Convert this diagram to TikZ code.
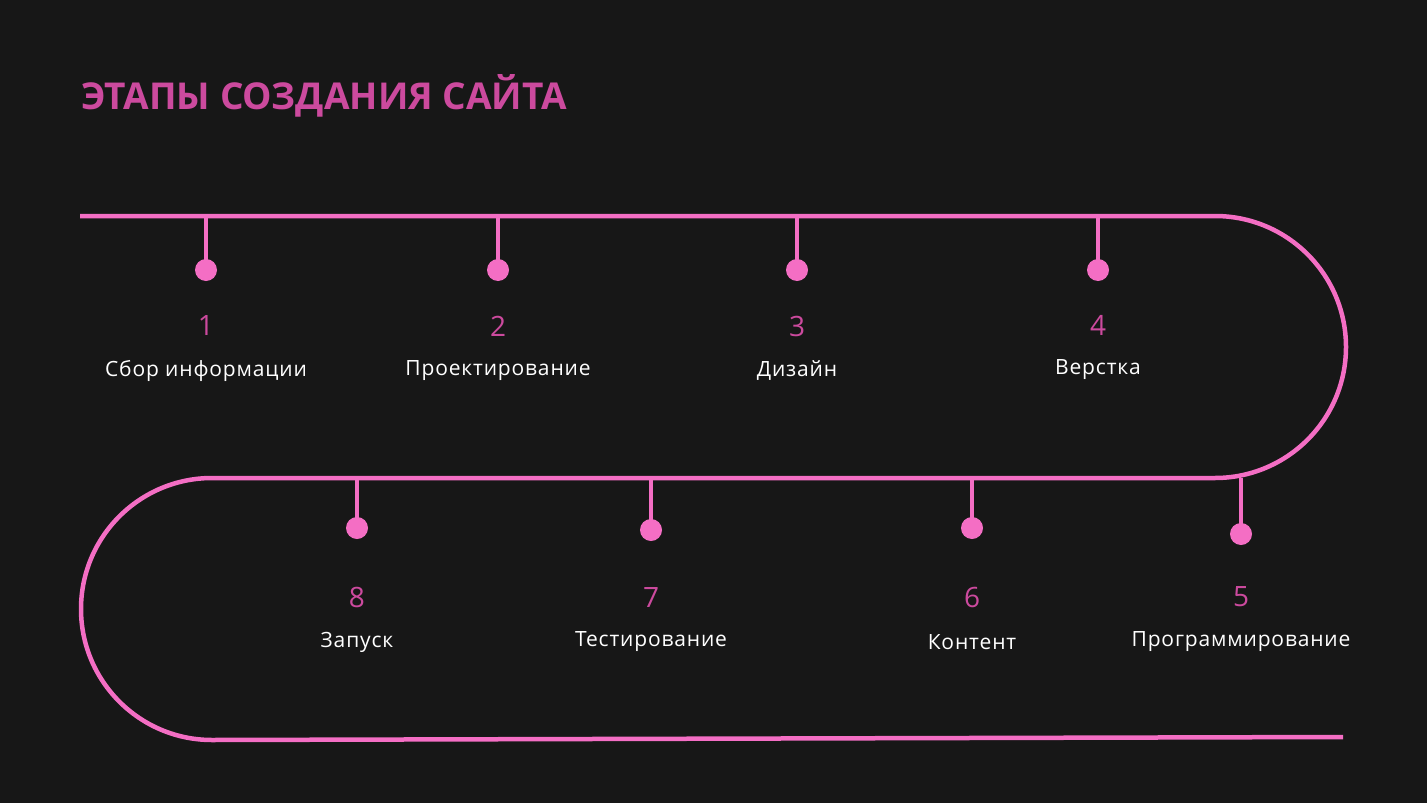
\documentclass[tikz,border=0pt]{standalone}
\usepackage{fontspec}
\setmainfont{Open Sans}
\definecolor{bg}{HTML}{171717}
\definecolor{pinkline}{HTML}{F46EC4}
\definecolor{pinktext}{HTML}{CC4A9E}
\begin{document}
\begin{tikzpicture}[x=1pt,y=-1pt,
  track/.style={pinkline,line width=4.5pt},
  dotnode/.style={circle,fill=pinkline,inner sep=0pt,minimum size=22pt},
  num/.style={pinktext,font=\fontsize{28}{30}\selectfont},
  lbl/.style={white,font=\addfontfeatures{LetterSpace=4}\fontsize{21}{24}\selectfont}]
\fill[bg] (0,0) rectangle (1427,803);
\useasboundingbox (0,0) rectangle (1427,803);
\node[anchor=west,pinktext,font=\bfseries\fontsize{37}{40}\selectfont] (title) at (78,96) {ЭТАПЫ СОЗДАНИЯ САЙТА};
\coordinate (s) at (80,216);
\coordinate (e) at (1343,737);
\draw[track] (s) -- (1215,216) arc[start angle=-90,end angle=90,radius=131]
  -- (212,478) arc[start angle=-90,end angle=-270,radius=131] -- (e);
\foreach \n/\x/\yt/\yd/\yn/\t in {1/206/216/270/326/Сбор информации,2/498/216/270/326/Проектирование,3/797/216/270/326/Дизайн,4/1098/216/270/325/Верстка,8/357/478/528/597/Запуск,7/651/478/530/597/Тестирование,6/972/478/528/597/Контент,5/1241/478/534/597/Программирование}{
  \coordinate (t\n) at (\x,\yt);
  \node[dotnode] (d\n) at (\x,\yd) {};
  \draw[track] (t\n) -- (d\n.center);
  \node[num] (n\n) at (\x,\yn) {\n};
  \node[lbl] (l\n) at (\x,\yn+45) {\t};
}
\end{tikzpicture}
\end{document}
